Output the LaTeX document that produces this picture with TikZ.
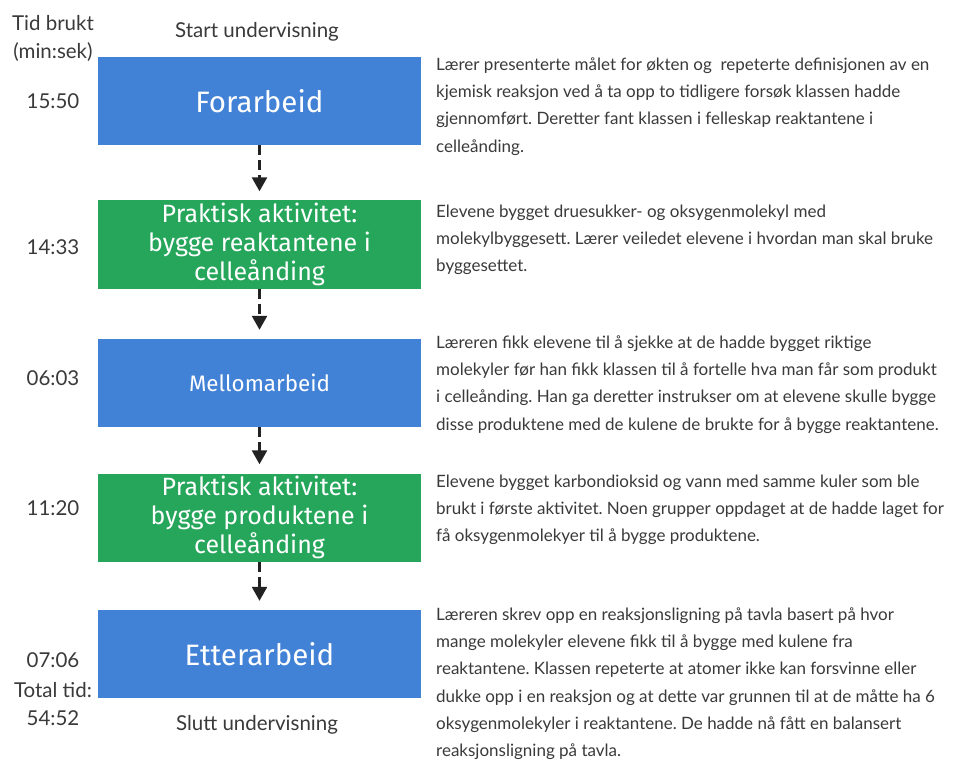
\documentclass[tikz,border=0pt]{standalone}
\usepackage{fontspec}
\setmainfont{Lato}
\newfontfamily\boxfont{Fira Sans}
\usetikzlibrary{arrows.meta}
\definecolor{boxblue}{HTML}{4282D6}
\definecolor{boxgreen}{HTML}{25A65A}
\definecolor{txtgray}{HTML}{3A3A3A}
\definecolor{arrowgray}{HTML}{222222}
\frenchspacing
\begin{document}
\begin{tikzpicture}[x=1pt,y=-1pt,
  stage/.style={minimum width=323pt, minimum height=88pt, inner sep=0pt, text=white, align=center},
  bluebox/.style={stage, fill=boxblue},
  greenbox/.style={stage, fill=boxgreen},
  desc/.style={anchor=north west, inner sep=0pt, text=txtgray, align=left, font=\frenchspacing\fontsize{17}{27.3}\selectfont},
  lbl/.style={inner sep=0pt, text=txtgray, align=center, font=\fontsize{20.5}{27.5}\selectfont},
  flow/.style={draw=arrowgray, line width=2.5pt, dash pattern=on 10pt off 5pt, shorten >=9pt, -{Triangle[width=15pt,length=14pt]}}
]
\useasboundingbox (0,0) rectangle (974,762);
\fill[white] (0,0) rectangle (974,762);

% stage boxes
\node[bluebox, font=\boxfont\fontsize{29.5}{32}\selectfont] (b1) at (259.5,101) {Forarbeid};
\node[greenbox, font=\boxfont\fontsize{25}{29}\selectfont] (b2) at (259.5,244.5) {Praktisk aktivitet:\\bygge reaktantene i\\celleånding};
\node[bluebox, font=\boxfont\fontsize{22.4}{26}\selectfont] (b3) at (259.5,383) {Mellomarbeid};
\node[greenbox, font=\boxfont\fontsize{25}{29}\selectfont] (b4) at (259.5,517.5) {Praktisk aktivitet:\\bygge produktene i\\celleånding};
\node[bluebox, font=\boxfont\fontsize{29.5}{32}\selectfont] (b5) at (259.5,654) {Etterarbeid};

% connectors
\draw[flow] (b1.south) -- (b2.north);
\draw[flow] (b2.south) -- (b3.north);
\draw[flow] (b3.south) -- (b4.north);
\draw[flow] (b4.south) -- (b5.north);

% top / bottom labels
\node[lbl] (start) at (257,32) {Start undervisning};
\node[lbl] (slutt) at (257,725) {Slutt undervisning};

% time column
\node[lbl] (tid) at (53,38.5) {Tid brukt\\(min:sek)};
\node[lbl] (t1) at (53,101) {15:50};
\node[lbl] (t2) at (53,247) {14:33};
\node[lbl] (t3) at (53,378) {06:03};
\node[lbl] (t4) at (53,508) {11:20};
\node[lbl] (t5) at (53,660) {07:06};
\node[lbl] (tot) at (53,704) {Total tid:\\54:52};

% descriptions
\node[desc] (d1) at (436,51) {\strut Lærer presenterte målet for økten og\ \ repeterte definisjonen av en\\kjemisk reaksjon ved å ta opp to tidligere forsøk klassen hadde\\gjennomført. Deretter fant klassen i felleskap reaktantene i\\celleånding.};
\node[desc] (d2) at (436,198) {\strut Elevene bygget druesukker- og oksygenmolekyl med\\molekylbyggesett. Lærer veiledet elevene i hvordan man skal bruke\\byggesettet.};
\node[desc] (d3) at (436,329) {\strut Læreren fikk elevene til å sjekke at de hadde bygget riktige\\molekyler før han fikk klassen til å fortelle hva man får som produkt\\i celleånding. Han ga deretter instrukser om at elevene skulle bygge\\disse produktene med de kulene de brukte for å bygge reaktantene.};
\node[desc] (d4) at (436,468) {\strut Elevene bygget karbondioksid og vann med samme kuler som ble\\brukt i første aktivitet. Noen grupper oppdaget at de hadde laget for\\få oksygenmolekyer til å bygge produktene.};
\node[desc] (d5) at (436,601) {\strut Læreren skrev opp en reaksjonsligning på tavla basert på hvor\\mange molekyler elevene fikk til å bygge med kulene fra\\reaktantene. Klassen repeterte at atomer ikke kan forsvinne eller\\dukke opp i en reaksjon og at dette var grunnen til at de måtte ha 6\\oksygenmolekyler i reaktantene. De hadde nå fått en balansert\\reaksjonsligning på tavla.};
\end{tikzpicture}
\end{document}
